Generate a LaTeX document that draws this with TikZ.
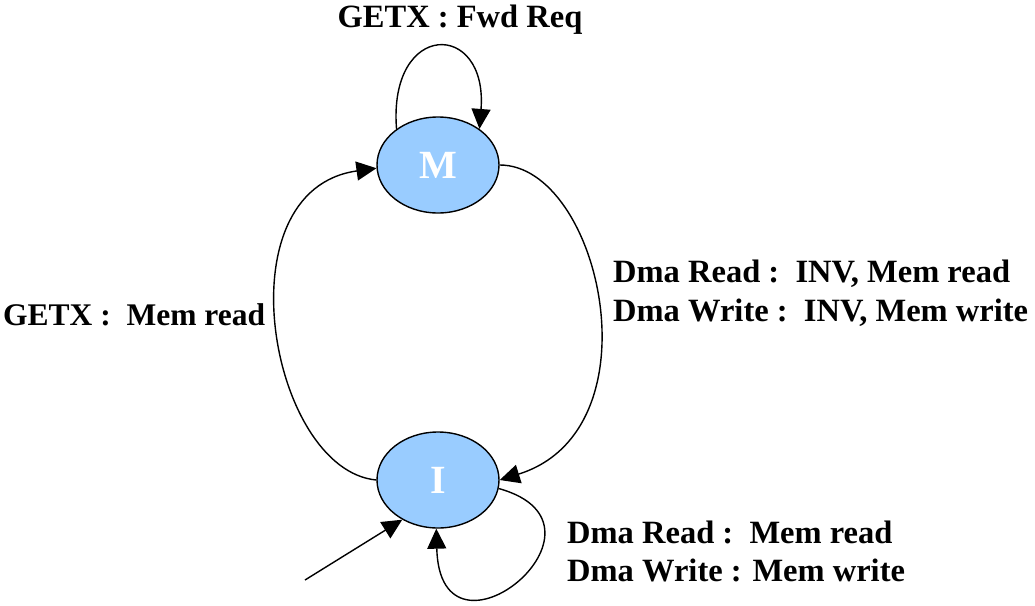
\documentclass[tikz,border=0pt]{standalone}
\usepackage{fontspec}
\setmainfont{Liberation Serif}
\usetikzlibrary{arrows.meta,shapes.geometric}
\begin{document}
\begin{tikzpicture}[x=1pt,y=-1pt,
  state/.style={ellipse,draw,line width=1.4pt,fill=stfill,minimum width=122pt,minimum height=96pt,inner sep=0pt,
    font=\fontsize{40}{42}\selectfont\bfseries,text=white},
  lbl/.style={font=\fontsize{32.5}{35}\selectfont\bfseries,inner sep=0pt},
  edge/.style={line width=1.4pt,-{Triangle[length=20pt,width=19pt]}}]
\definecolor{stfill}{HTML}{99CCFF}
\useasboundingbox (0,0) rectangle (1035,605);
\node[state] (M) at (438,165) {M};
\node[state] (I) at (438,480) {I};
\coordinate (init) at (305,580);
\draw[edge] (M.139) .. controls (388,20) and (488,20) .. (M.41);
\draw[edge] (M.east) .. controls (600,165) and (660,430) .. (I.east);
\draw[edge] (I.west) .. controls (270,470) and (220,190) .. (M.183);
\draw[edge] (I.-8) .. controls (630,525) and (440,680) .. (I.268);
\draw[edge] (init) -- (I.228);
\node[lbl] (lm) at (460,20) {GETX : Fwd Req};
\node[lbl,anchor=west,font=\fontsize{31.5}{35}\selectfont\bfseries] (lg) at (3,315) {GETX :\ \ Mem read};
\node[lbl,anchor=west] (ld1) at (613,274) {Dma Read :\ \ INV, Mem read};
\node[lbl,anchor=west] (ld2) at (613,313) {Dma Write :\ \ INV, Mem write};
\node[lbl,anchor=west] (li1) at (567,532) {Dma Read :\ \ Mem read};
\node[lbl,anchor=west] (li2) at (567,570) {Dma Write : Mem write};
\end{tikzpicture}
\end{document}
